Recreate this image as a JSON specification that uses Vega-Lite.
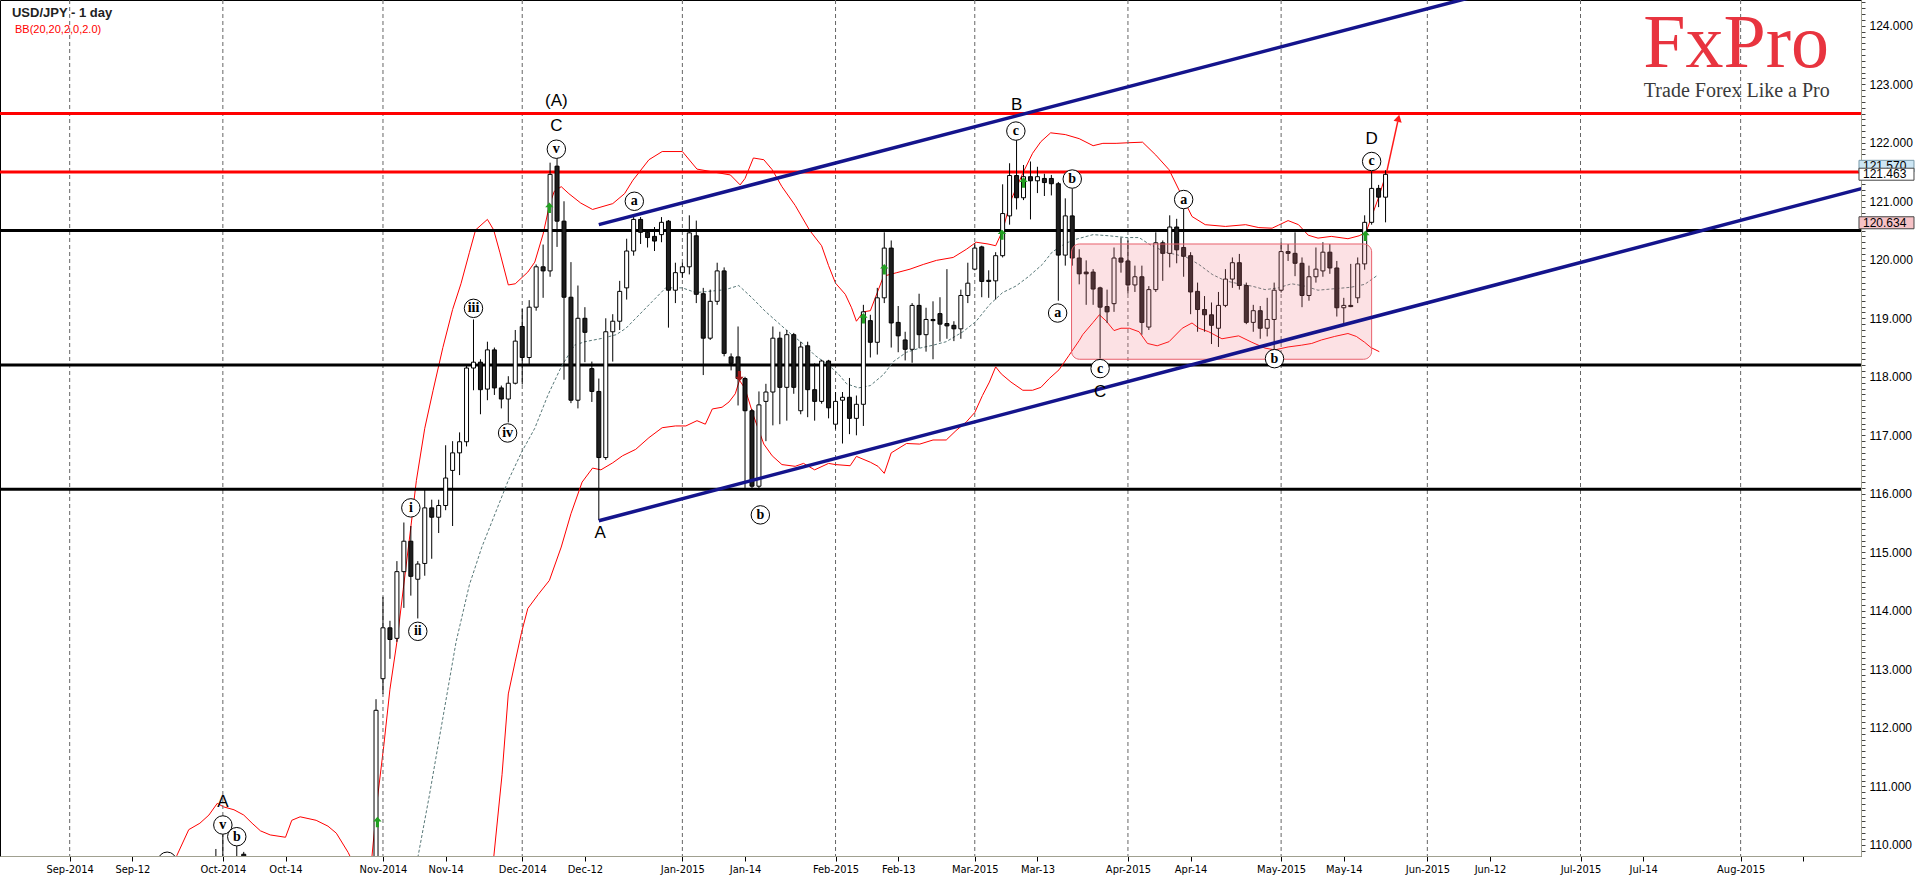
{
"$schema": "https://vega.github.io/schema/vega-lite/v6.json",
"width": 1861,
"height": 856,
"autosize": {"type": "none"},
"padding": {"left": 0, "top": 0, "right": 57, "bottom": 20},
"background": "#ffffff",
"config": {"view": {"stroke": "#000000", "strokeWidth": 1}},
"resolve": {"axis": {"x": "independent", "y": "independent"}},
"datasets": {
"months": [{"d":0},{"d":22},{"d":45},{"d":65},{"d":88},{"d":110},{"d":130},{"d":152},{"d":174},{"d":195},{"d":217},{"d":240}],
"candles": [
{"d":19,"o":109.2,"h":109.45,"l":108.8,"c":109.3},
{"d":20,"o":109.3,"h":109.6,"l":109.1,"c":109.45},
{"d":21,"o":109.45,"h":109.93,"l":109.3,"c":109.65},
{"d":22,"o":109.65,"h":110.18,"l":108.5,"c":108.9},
{"d":23,"o":108.9,"h":109.1,"l":107.9,"c":108.5},
{"d":24,"o":108.5,"h":109.98,"l":108.4,"c":109.6},
{"d":25,"o":109.84,"h":109.88,"l":108.7,"c":108.8},
{"d":43,"o":109.1,"h":109.4,"l":108.9,"c":109.2},
{"d":44,"o":109.2,"h":112.49,"l":109.15,"c":112.3},
{"d":45,"o":112.84,"h":114.24,"l":112.58,"c":113.71},
{"d":46,"o":113.71,"h":113.83,"l":113.18,"c":113.51},
{"d":47,"o":113.53,"h":114.85,"l":113.47,"c":114.67},
{"d":48,"o":114.67,"h":115.51,"l":114.05,"c":115.19},
{"d":49,"o":115.19,"h":115.45,"l":114.26,"c":114.59},
{"d":50,"o":114.54,"h":114.85,"l":113.87,"c":114.8},
{"d":51,"o":114.81,"h":116.08,"l":114.6,"c":115.76},
{"d":52,"o":115.76,"h":115.9,"l":114.89,"c":115.6},
{"d":53,"o":115.6,"h":115.9,"l":115.33,"c":115.8},
{"d":54,"o":115.8,"h":116.83,"l":115.72,"c":116.27},
{"d":55,"o":116.4,"h":116.9,"l":115.45,"c":116.7},
{"d":56,"o":116.7,"h":117.05,"l":116.32,"c":116.89},
{"d":57,"o":116.89,"h":118.2,"l":116.81,"c":118.15},
{"d":58,"o":118.15,"h":118.98,"l":117.77,"c":118.25},
{"d":59,"o":118.25,"h":118.3,"l":117.36,"c":117.78},
{"d":60,"o":117.79,"h":118.6,"l":117.6,"c":118.46},
{"d":61,"o":118.46,"h":118.5,"l":117.69,"c":117.81},
{"d":62,"o":117.81,"h":117.85,"l":117.46,"c":117.62},
{"d":63,"o":117.62,"h":118.01,"l":117.22,"c":117.89},
{"d":64,"o":117.89,"h":118.8,"l":117.87,"c":118.61},
{"d":65,"o":118.86,"h":119.16,"l":117.87,"c":118.33},
{"d":66,"o":118.33,"h":119.31,"l":118.21,"c":119.19},
{"d":67,"o":119.19,"h":119.92,"l":119.13,"c":119.88},
{"d":68,"o":119.88,"h":120.26,"l":119.35,"c":119.81},
{"d":69,"o":119.81,"h":121.66,"l":119.71,"c":121.46},
{"d":70,"o":121.6,"h":121.85,"l":120.22,"c":120.66},
{"d":71,"o":120.66,"h":121.0,"l":117.95,"c":119.36},
{"d":72,"o":119.36,"h":119.96,"l":117.55,"c":117.6},
{"d":73,"o":117.6,"h":119.56,"l":117.46,"c":119.0},
{"d":74,"o":119.0,"h":119.19,"l":118.25,"c":118.76},
{"d":75,"o":118.14,"h":118.26,"l":117.57,"c":117.75},
{"d":76,"o":117.75,"h":117.97,"l":115.55,"c":116.62},
{"d":77,"o":116.62,"h":119.0,"l":116.58,"c":118.77},
{"d":78,"o":118.77,"h":119.07,"l":118.26,"c":118.95},
{"d":79,"o":118.95,"h":119.64,"l":118.8,"c":119.46},
{"d":80,"o":119.52,"h":120.36,"l":119.32,"c":120.15},
{"d":81,"o":120.15,"h":120.77,"l":120.07,"c":120.69},
{"d":82,"o":120.69,"h":120.73,"l":120.27,"c":120.47},
{"d":83,"o":120.47,"h":120.5,"l":120.21,"c":120.38},
{"d":84,"o":120.4,"h":120.56,"l":120.15,"c":120.32},
{"d":85,"o":120.43,"h":120.73,"l":120.3,"c":120.64},
{"d":86,"o":120.66,"h":120.68,"l":118.84,"c":119.48},
{"d":87,"o":119.48,"h":119.95,"l":119.26,"c":119.78},
{"d":88,"o":119.78,"h":119.95,"l":119.69,"c":119.88},
{"d":89,"o":119.88,"h":120.76,"l":119.75,"c":120.46},
{"d":90,"o":120.41,"h":120.67,"l":119.26,"c":119.41},
{"d":91,"o":119.42,"h":119.52,"l":118.03,"c":118.66},
{"d":92,"o":118.66,"h":119.49,"l":118.63,"c":119.29},
{"d":93,"o":119.29,"h":119.95,"l":119.23,"c":119.81},
{"d":94,"o":119.81,"h":119.87,"l":118.35,"c":118.4},
{"d":95,"o":118.34,"h":118.4,"l":118.11,"c":118.23},
{"d":96,"o":118.34,"h":118.86,"l":117.51,"c":117.97},
{"d":97,"o":117.97,"h":118.0,"l":116.1,"c":117.42},
{"d":98,"o":117.42,"h":117.45,"l":116.07,"c":116.13},
{"d":99,"o":116.13,"h":117.75,"l":116.07,"c":117.52},
{"d":100,"o":117.58,"h":117.88,"l":116.9,"c":117.74},
{"d":101,"o":117.74,"h":118.86,"l":117.17,"c":118.66},
{"d":102,"o":118.66,"h":118.77,"l":117.19,"c":117.82},
{"d":103,"o":117.82,"h":118.8,"l":117.25,"c":118.72},
{"d":104,"o":118.72,"h":118.75,"l":117.71,"c":117.82},
{"d":105,"o":117.42,"h":118.6,"l":117.36,"c":118.51},
{"d":106,"o":118.53,"h":118.6,"l":117.31,"c":117.78},
{"d":107,"o":117.78,"h":118.23,"l":117.25,"c":117.58},
{"d":108,"o":117.58,"h":118.29,"l":117.54,"c":118.27},
{"d":109,"o":118.27,"h":118.29,"l":117.29,"c":117.47},
{"d":110,"o":117.19,"h":117.74,"l":117.1,"c":117.58},
{"d":111,"o":117.6,"h":117.74,"l":116.86,"c":117.65},
{"d":112,"o":117.65,"h":117.98,"l":117.02,"c":117.29},
{"d":113,"o":117.29,"h":117.68,"l":117.0,"c":117.53},
{"d":114,"o":117.53,"h":119.23,"l":117.16,"c":119.11},
{"d":115,"o":118.96,"h":119.06,"l":118.33,"c":118.59},
{"d":116,"o":118.59,"h":119.52,"l":118.38,"c":119.35},
{"d":117,"o":119.35,"h":120.47,"l":119.26,"c":120.2},
{"d":118,"o":120.2,"h":120.33,"l":118.5,"c":118.92},
{"d":119,"o":118.93,"h":119.21,"l":118.42,"c":118.7},
{"d":120,"o":118.63,"h":118.77,"l":118.28,"c":118.47},
{"d":121,"o":118.47,"h":119.26,"l":118.24,"c":119.22},
{"d":122,"o":119.22,"h":119.42,"l":118.49,"c":118.72},
{"d":123,"o":118.72,"h":119.18,"l":118.43,"c":118.98},
{"d":124,"o":118.98,"h":119.29,"l":118.3,"c":118.96},
{"d":125,"o":119.08,"h":119.36,"l":118.6,"c":118.9},
{"d":126,"o":118.91,"h":119.84,"l":118.65,"c":118.87},
{"d":127,"o":118.88,"h":118.95,"l":118.61,"c":118.82},
{"d":128,"o":118.82,"h":119.49,"l":118.65,"c":119.39},
{"d":129,"o":119.39,"h":119.95,"l":119.26,"c":119.6},
{"d":130,"o":119.84,"h":120.28,"l":119.82,"c":120.2},
{"d":131,"o":120.22,"h":120.24,"l":119.36,"c":119.63},
{"d":132,"o":119.65,"h":119.82,"l":119.35,"c":119.63},
{"d":133,"o":119.64,"h":120.13,"l":119.32,"c":120.07},
{"d":134,"o":120.07,"h":121.29,"l":120.04,"c":120.79},
{"d":135,"o":120.75,"h":121.65,"l":120.6,"c":121.44},
{"d":136,"o":121.44,"h":122.05,"l":120.86,"c":121.06},
{"d":137,"o":121.06,"h":121.62,"l":121.02,"c":121.42},
{"d":138,"o":121.42,"h":121.68,"l":120.69,"c":121.35},
{"d":139,"o":121.35,"h":121.59,"l":121.14,"c":121.42},
{"d":140,"o":121.39,"h":121.47,"l":121.09,"c":121.32},
{"d":141,"o":121.39,"h":121.45,"l":121.1,"c":121.3},
{"d":142,"o":121.3,"h":121.33,"l":119.3,"c":120.08},
{"d":143,"o":120.08,"h":121.05,"l":119.9,"c":120.75},
{"d":144,"o":120.75,"h":121.22,"l":119.9,"c":120.03},
{"d":145,"o":120.03,"h":120.18,"l":119.58,"c":119.76},
{"d":146,"o":119.79,"h":119.99,"l":119.23,"c":119.76},
{"d":147,"o":119.79,"h":119.84,"l":119.23,"c":119.5},
{"d":148,"o":119.52,"h":119.54,"l":118.31,"c":119.19},
{"d":149,"o":119.2,"h":119.49,"l":118.92,"c":119.11},
{"d":150,"o":119.25,"h":120.21,"l":119.11,"c":120.03},
{"d":151,"o":120.03,"h":120.38,"l":119.78,"c":119.96},
{"d":152,"o":119.98,"h":120.33,"l":119.42,"c":119.57},
{"d":153,"o":119.57,"h":119.9,"l":119.45,"c":119.71},
{"d":154,"o":119.71,"h":119.9,"l":118.72,"c":118.93},
{"d":155,"o":118.85,"h":119.55,"l":118.8,"c":119.49},
{"d":156,"o":119.49,"h":120.47,"l":119.45,"c":120.29},
{"d":157,"o":120.29,"h":120.33,"l":119.64,"c":120.11},
{"d":158,"o":120.11,"h":120.76,"l":119.87,"c":120.56},
{"d":159,"o":120.56,"h":120.7,"l":119.94,"c":120.17},
{"d":160,"o":120.21,"h":120.87,"l":119.71,"c":120.06},
{"d":161,"o":120.07,"h":120.13,"l":119.07,"c":119.45},
{"d":162,"o":119.46,"h":119.61,"l":118.77,"c":119.15},
{"d":163,"o":119.15,"h":119.38,"l":118.77,"c":119.06},
{"d":164,"o":119.06,"h":119.27,"l":118.56,"c":118.88},
{"d":165,"o":118.83,"h":119.45,"l":118.51,"c":119.22},
{"d":166,"o":119.22,"h":119.84,"l":119.19,"c":119.67},
{"d":167,"o":119.67,"h":120.04,"l":119.52,"c":119.95},
{"d":168,"o":119.95,"h":120.1,"l":119.49,"c":119.56},
{"d":169,"o":119.56,"h":119.61,"l":118.9,"c":118.93},
{"d":170,"o":118.93,"h":119.23,"l":118.77,"c":119.13},
{"d":171,"o":119.13,"h":119.21,"l":118.65,"c":118.83},
{"d":172,"o":118.83,"h":119.35,"l":118.69,"c":118.98},
{"d":173,"o":118.98,"h":119.61,"l":118.46,"c":119.48},
{"d":174,"o":119.48,"h":120.3,"l":119.44,"c":120.14},
{"d":175,"o":120.14,"h":120.27,"l":119.98,"c":120.11},
{"d":176,"o":120.11,"h":120.47,"l":119.72,"c":119.94},
{"d":177,"o":119.94,"h":120.04,"l":119.19,"c":119.39},
{"d":178,"o":119.39,"h":119.9,"l":119.3,"c":119.71},
{"d":179,"o":119.71,"h":120.21,"l":119.61,"c":119.84},
{"d":180,"o":119.81,"h":120.3,"l":119.71,"c":120.13},
{"d":181,"o":120.13,"h":120.27,"l":119.76,"c":119.86},
{"d":182,"o":119.86,"h":119.98,"l":119.03,"c":119.18},
{"d":183,"o":119.18,"h":119.35,"l":118.9,"c":119.22},
{"d":184,"o":119.22,"h":119.93,"l":119.19,"c":119.2},
{"d":185,"o":119.35,"h":120.04,"l":119.26,"c":119.93},
{"d":186,"o":119.93,"h":120.76,"l":119.83,"c":120.64},
{"d":187,"o":120.64,"h":121.51,"l":120.6,"c":121.22},
{"d":188,"o":121.22,"h":121.28,"l":120.9,"c":121.07},
{"d":189,"o":121.07,"h":121.53,"l":120.64,"c":121.46}
],
"bbU": [
{"d":14,"v":109.3},{"d":15.4,"v":109.82},{"d":17.1,"v":110.26},{"d":18.7,"v":110.37},{"d":20.0,"v":110.51},{"d":21.2,"v":110.71},{"d":22.1,"v":110.65},{"d":23.6,"v":110.6},{"d":25.0,"v":110.51},{"d":26.2,"v":110.37},{"d":27.4,"v":110.24},{"d":28.8,"v":110.17},{"d":31.0,"v":110.13},{"d":31.9,"v":110.42},{"d":33.1,"v":110.48},{"d":35.4,"v":110.42},{"d":37.1,"v":110.32},{"d":38.3,"v":110.2},{"d":40.0,"v":109.87},{"d":41.5,"v":109.5},{"d":43.4,"v":109.78},{"d":44.2,"v":110.79},{"d":45.1,"v":111.68},{"d":46.0,"v":112.66},{"d":47.0,"v":113.47},{"d":47.9,"v":114.36},{"d":48.9,"v":115.33},{"d":49.8,"v":116.23},{"d":51.0,"v":117.12},{"d":52.2,"v":117.77},{"d":53.6,"v":118.5},{"d":55.0,"v":119.15},{"d":56.2,"v":119.59},{"d":57.4,"v":120.12},{"d":58.3,"v":120.51},{"d":60.0,"v":120.69},{"d":60.9,"v":120.51},{"d":61.8,"v":120.12},{"d":63.0,"v":119.57},{"d":64.0,"v":119.59},{"d":65.8,"v":119.79},{"d":66.8,"v":119.96},{"d":68.0,"v":120.44},{"d":68.9,"v":120.93},{"d":69.6,"v":121.17},{"d":70.6,"v":121.25},{"d":71.7,"v":121.13},{"d":73.4,"v":120.97},{"d":75.1,"v":120.86},{"d":78.0,"v":120.96},{"d":79.7,"v":121.13},{"d":80.9,"v":121.36},{"d":83.2,"v":121.71},{"d":85.1,"v":121.85},{"d":88.0,"v":121.85},{"d":90.1,"v":121.55},{"d":92.0,"v":121.51},{"d":94.9,"v":121.45},{"d":96.3,"v":121.28},{"d":97.0,"v":121.39},{"d":98.2,"v":121.74},{"d":99.7,"v":121.71},{"d":100.9,"v":121.54},{"d":102.3,"v":121.25},{"d":104.2,"v":120.93},{"d":106.3,"v":120.5},{"d":108.0,"v":120.24},{"d":109.0,"v":119.9},{"d":110.0,"v":119.6},{"d":111.4,"v":119.41},{"d":112.3,"v":119.18},{"d":113.0,"v":118.95},{"d":114.0,"v":119.11},{"d":115.0,"v":119.13},{"d":116.9,"v":119.72},{"d":118.8,"v":119.78},{"d":120.7,"v":119.84},{"d":122.6,"v":119.92},{"d":124.5,"v":119.99},{"d":126.9,"v":120.04},{"d":128.8,"v":120.18},{"d":130.2,"v":120.3},{"d":131.9,"v":120.27},{"d":133.0,"v":120.24},{"d":134.0,"v":120.5},{"d":135.2,"v":121.02},{"d":136.9,"v":121.48},{"d":138.3,"v":121.82},{"d":139.5,"v":122.02},{"d":140.9,"v":122.17},{"d":143.0,"v":122.14},{"d":145.0,"v":122.07},{"d":147.0,"v":121.95},{"d":148.4,"v":121.99},{"d":150.3,"v":121.99},{"d":152.0,"v":122.0},{"d":154.1,"v":122.01},{"d":156.0,"v":121.79},{"d":157.9,"v":121.54},{"d":159.8,"v":121.08},{"d":161.2,"v":120.74},{"d":163.1,"v":120.6},{"d":166.0,"v":120.57},{"d":168.9,"v":120.6},{"d":170.8,"v":120.55},{"d":172.7,"v":120.54},{"d":173.6,"v":120.59},{"d":175.0,"v":120.67},{"d":176.5,"v":120.6},{"d":177.9,"v":120.42},{"d":179.3,"v":120.37},{"d":181.2,"v":120.4},{"d":183.6,"v":120.36},{"d":185.2,"v":120.41},{"d":186.2,"v":120.47},{"d":188.1,"v":121.1},{"d":189.2,"v":121.52}
],
"bbL": [
{"d":59.5,"v":108.5},{"d":60.9,"v":109.78},{"d":62.1,"v":111.2},{"d":63.0,"v":112.58},{"d":64.0,"v":113.14},{"d":64.9,"v":113.63},{"d":65.8,"v":114.04},{"d":67.3,"v":114.28},{"d":68.9,"v":114.52},{"d":70.6,"v":115.09},{"d":72.0,"v":115.66},{"d":73.6,"v":116.2},{"d":75.1,"v":116.44},{"d":76.3,"v":116.41},{"d":78.0,"v":116.53},{"d":79.4,"v":116.65},{"d":81.3,"v":116.76},{"d":83.2,"v":116.96},{"d":85.1,"v":117.13},{"d":87.0,"v":117.16},{"d":88.5,"v":117.16},{"d":90.1,"v":117.25},{"d":91.3,"v":117.19},{"d":92.3,"v":117.45},{"d":93.7,"v":117.48},{"d":94.7,"v":117.57},{"d":95.6,"v":117.71},{"d":96.2,"v":117.94},{"d":97.0,"v":117.8},{"d":98.2,"v":117.34},{"d":99.7,"v":116.85},{"d":100.9,"v":116.65},{"d":102.3,"v":116.5},{"d":104.2,"v":116.47},{"d":105.4,"v":116.52},{"d":107.0,"v":116.41},{"d":109.0,"v":116.52},{"d":110.0,"v":116.5},{"d":112.1,"v":116.48},{"d":113.0,"v":116.64},{"d":115.0,"v":116.54},{"d":116.1,"v":116.47},{"d":117.0,"v":116.35},{"d":118.0,"v":116.7},{"d":120.2,"v":116.86},{"d":122.1,"v":116.85},{"d":124.0,"v":116.92},{"d":125.9,"v":116.92},{"d":127.3,"v":117.08},{"d":128.8,"v":117.23},{"d":130.0,"v":117.39},{"d":131.1,"v":117.68},{"d":132.1,"v":117.91},{"d":133.0,"v":118.17},{"d":133.8,"v":118.05},{"d":135.2,"v":117.91},{"d":136.9,"v":117.77},{"d":138.3,"v":117.77},{"d":139.5,"v":117.82},{"d":140.7,"v":117.97},{"d":142.1,"v":118.12},{"d":143.5,"v":118.36},{"d":145.0,"v":118.62},{"d":145.5,"v":118.72},{"d":147.0,"v":118.93},{"d":147.9,"v":119.06},{"d":148.9,"v":118.95},{"d":150.0,"v":118.79},{"d":151.0,"v":118.83},{"d":152.2,"v":118.83},{"d":153.6,"v":118.77},{"d":154.8,"v":118.57},{"d":156.2,"v":118.53},{"d":157.9,"v":118.6},{"d":159.8,"v":118.83},{"d":161.2,"v":118.92},{"d":162.2,"v":118.83},{"d":163.6,"v":118.77},{"d":165.5,"v":118.65},{"d":167.9,"v":118.7},{"d":169.8,"v":118.59},{"d":171.7,"v":118.49},{"d":173.1,"v":118.46},{"d":175.0,"v":118.51},{"d":176.9,"v":118.54},{"d":178.4,"v":118.57},{"d":179.8,"v":118.63},{"d":181.7,"v":118.69},{"d":183.6,"v":118.74},{"d":184.8,"v":118.69},{"d":186.0,"v":118.59},{"d":186.9,"v":118.5},{"d":188.1,"v":118.43}
],
"bbM": [
{"d":48.5,"v":108.6},{"d":50.0,"v":109.78},{"d":51.7,"v":110.87},{"d":53.6,"v":112.17},{"d":55.5,"v":113.47},{"d":57.4,"v":114.44},{"d":59.2,"v":115.09},{"d":61.1,"v":115.66},{"d":63.0,"v":116.23},{"d":64.9,"v":116.71},{"d":66.8,"v":117.12},{"d":68.7,"v":117.69},{"d":70.6,"v":118.17},{"d":72.5,"v":118.54},{"d":74.0,"v":118.6},{"d":76.6,"v":118.66},{"d":78.5,"v":118.72},{"d":79.9,"v":118.83},{"d":81.8,"v":119.06},{"d":83.7,"v":119.29},{"d":85.6,"v":119.52},{"d":88.0,"v":119.52},{"d":89.9,"v":119.44},{"d":91.8,"v":119.46},{"d":94.2,"v":119.49},{"d":96.1,"v":119.56},{"d":98.0,"v":119.35},{"d":99.9,"v":119.12},{"d":101.8,"v":118.92},{"d":103.7,"v":118.72},{"d":105.6,"v":118.54},{"d":107.0,"v":118.37},{"d":109.0,"v":118.2},{"d":110.4,"v":118.05},{"d":111.6,"v":117.88},{"d":113.3,"v":117.81},{"d":115.0,"v":117.85},{"d":116.9,"v":118.04},{"d":118.3,"v":118.26},{"d":120.2,"v":118.42},{"d":122.1,"v":118.49},{"d":124.0,"v":118.54},{"d":125.9,"v":118.6},{"d":128.3,"v":118.77},{"d":130.2,"v":118.95},{"d":132.1,"v":119.23},{"d":134.0,"v":119.44},{"d":135.9,"v":119.55},{"d":137.8,"v":119.72},{"d":139.7,"v":119.92},{"d":141.1,"v":120.13},{"d":143.0,"v":120.28},{"d":144.5,"v":120.35},{"d":147.0,"v":120.43},{"d":149.3,"v":120.41},{"d":151.7,"v":120.38},{"d":153.6,"v":120.38},{"d":155.0,"v":120.27},{"d":157.4,"v":120.13},{"d":160.3,"v":120.05},{"d":162.2,"v":119.92},{"d":164.1,"v":119.75},{"d":166.0,"v":119.64},{"d":167.9,"v":119.59},{"d":169.8,"v":119.55},{"d":171.7,"v":119.49},{"d":173.6,"v":119.52},{"d":175.5,"v":119.59},{"d":177.4,"v":119.55},{"d":179.3,"v":119.48},{"d":180.2,"v":119.49},{"d":182.1,"v":119.51},{"d":184.0,"v":119.53},{"d":186.0,"v":119.58},{"d":187.9,"v":119.74}
],
"hlines": [{"v":122.5,"k":"r"},{"v":121.5,"k":"r"},{"v":120.5,"k":"k"},{"v":118.2,"k":"k"},{"v":116.08,"k":"k"}],
"trend": [{"d":76,"v":120.6,"g":"upper"},{"d":215,"v":124.91,"g":"upper"},{"d":76,"v":115.54,"g":"lower"},{"d":260,"v":121.3,"g":"lower"}],
"box": [{"d1":143.9,"d2":187.0,"v1":118.3,"v2":120.27}],
"proj": [{"d":189.2,"v":121.52},{"d":190.75,"v":122.36}],
"projHead": [{"d":190.85,"v":122.42}],
"upArrows": [{"d":44.2,"v":110.39},{"d":68.9,"v":120.89},{"d":114.0,"v":119.0},{"d":117.0,"v":119.84},{"d":133.9,"v":120.43},{"d":137.0,"v":121.32},{"d":186.1,"v":120.41}],
"downArrows": [{"d":96.2,"v":118.01}],
"circles": [{"d":69.9,"v":121.89,"t":"v"},{"d":81.1,"v":121.0,"t":"a"},{"d":99.2,"v":115.64,"t":"b"},{"d":58.0,"v":119.17,"t":"iii"},{"d":49.0,"v":115.76,"t":"i"},{"d":50.0,"v":113.65,"t":"ii"},{"d":62.9,"v":117.04,"t":"iv"},{"d":135.9,"v":122.2,"t":"c"},{"d":144.0,"v":121.38,"t":"b"},{"d":141.9,"v":119.09,"t":"a"},{"d":148.0,"v":118.14,"t":"c"},{"d":160.0,"v":121.03,"t":"a"},{"d":173.05,"v":118.31,"t":"b"},{"d":187.0,"v":121.68,"t":"c"},{"d":22.0,"v":110.34,"t":"v"},{"d":24.0,"v":110.14,"t":"b"},{"d":14.0,"v":109.72,"t":""}],
"letters": [{"d":69.9,"v":122.71,"t":"(A)"},{"d":69.9,"v":122.29,"t":"C"},{"d":76.2,"v":115.33,"t":"A"},{"d":136.0,"v":122.64,"t":"B"},{"d":148.0,"v":117.74,"t":"C"},{"d":187.0,"v":122.07,"t":"D"},{"d":22.0,"v":110.74,"t":"A"}],
"title": [{"d":-8.29,"v":124.15,"t":"USD/JPY - 1 day"}],
"sub": [{"d":-7.86,"v":123.88,"t":"BB(20,20,2,0,2.0)"}],
"logo": [{"d":226.0,"v":123.3,"t":"FxPro"}],
"slogan": [{"d":226.1,"v":122.78,"t":"Trade Forex Like a Pro"}],
"tags": [{"d1":257.0,"d2":264.9,"t":"121.570","v":121.6,"lo":121.5,"hi":121.7,"k":"ask"},{"d1":257.0,"d2":264.9,"t":"121.463","v":121.463,"lo":121.36,"hi":121.565,"k":"last"},{"d1":257.0,"d2":264.9,"t":"120.634","v":120.634,"lo":120.53,"hi":120.735,"k":"bid"}]
},
"layer": [
{"data":{"name":"bbU"},"mark":{"type":"line","color":"#ff0000","strokeWidth":1,"clip":true},
 "encoding":{
  "x":{"field":"d","type":"quantitative","scale":{"domain":[-9.29,256.57],"nice":false,"zero":false},
   "axis":{"title":null,"values":[0,9,22,31,45,54,65,74,88,97,110,119,130,139,152,161,174,183,195,204,217,226,240,249],
    "labelExpr":"['Sep-2014','Sep-12','Oct-2014','Oct-14','Nov-2014','Nov-14','Dec-2014','Dec-12','Jan-2015','Jan-14','Feb-2015','Feb-13','Mar-2015','Mar-13','Apr-2015','Apr-14','May-2015','May-14','Jun-2015','Jun-12','Jul-2015','Jul-14','Aug-2015',''][indexof([0,9,22,31,45,54,65,74,88,97,110,119,130,139,152,161,174,183,195,204,217,226,240,249], datum.value)]",
    "grid":false,
    "domainColor":"#a0a090","tickColor":"#000000","tickSize":5,"labelFont":"Liberation Sans Narrow, Arial Narrow, DejaVu Sans Condensed, sans-serif","labelFontSize":11,"labelColor":"#000000","labelPadding":2,"labelOverlap":false,"labelFlush":false,"labelBound":false}},
  "y":{"field":"v","type":"quantitative","scale":{"domain":[109.81,124.44],"nice":false,"zero":false},
   "axis":{"title":null,"orient":"right","tickCount":150,"grid":false,
    "labelExpr":"abs(datum.value - round(datum.value)) < 0.001 ? format(datum.value, '.3f') : ''",
    "domainColor":"#a0a090","tickColor":"#444444","tickSize":4,"labelFont":"Liberation Sans, Arial, sans-serif","labelFontSize":12,"labelColor":"#000000","labelPadding":4,"labelOverlap":false,"labelFlush":false,"labelBound":false}}}},
{"data":{"name":"months"},"mark":{"type":"rule","color":"#666666","strokeWidth":1,"strokeDash":[4,3]},
 "encoding":{"x":{"field":"d","type":"quantitative","scale":{"domain":[-9.29,256.57],"nice":false,"zero":false},"axis":null}}},
{"data":{"name":"hlines"},"mark":{"type":"rule","strokeWidth":3},
 "encoding":{"y":{"field":"v","type":"quantitative","scale":{"domain":[109.81,124.44],"nice":false,"zero":false},"axis":null},
  "color":{"field":"k","type":"nominal","scale":{"domain":["r","k"],"range":["#ff0000","#000000"]},"legend":null}}},
{"data":{"name":"bbL"},"mark":{"type":"line","color":"#ff0000","strokeWidth":1,"clip":true},
 "encoding":{"x":{"field":"d","type":"quantitative","scale":{"domain":[-9.29,256.57],"nice":false,"zero":false},"axis":null},
  "y":{"field":"v","type":"quantitative","scale":{"domain":[109.81,124.44],"nice":false,"zero":false},"axis":null}}},
{"data":{"name":"bbM"},"mark":{"type":"line","color":"#587878","strokeWidth":1,"strokeDash":[3,2],"clip":true},
 "encoding":{"x":{"field":"d","type":"quantitative","scale":{"domain":[-9.29,256.57],"nice":false,"zero":false},"axis":null},
  "y":{"field":"v","type":"quantitative","scale":{"domain":[109.81,124.44],"nice":false,"zero":false},"axis":null}}},
{"data":{"name":"candles"},"mark":{"type":"rule","color":"#000000","strokeWidth":1,"clip":true},
 "encoding":{"x":{"field":"d","type":"quantitative","scale":{"domain":[-9.29,256.57],"nice":false,"zero":false},"axis":null},
  "y":{"field":"l","type":"quantitative","scale":{"domain":[109.81,124.44],"nice":false,"zero":false},"axis":null},
  "y2":{"field":"h"}}},
{"data":{"name":"candles"},"mark":{"type":"bar","size":4,"stroke":"#000000","strokeWidth":1,"clip":true},
 "encoding":{"x":{"field":"d","type":"quantitative","scale":{"domain":[-9.29,256.57],"nice":false,"zero":false},"axis":null},
  "y":{"field":"o","type":"quantitative","scale":{"domain":[109.81,124.44],"nice":false,"zero":false},"axis":null},
  "y2":{"field":"c"},
  "fill":{"condition":{"test":"datum.c >= datum.o","value":"#ffffff"},"value":"#1e1e1e"}}},
{"data":{"name":"box"},"mark":{"type":"rect","fill":"#f07884","fillOpacity":0.22,"stroke":"#e8606c","strokeWidth":1,"cornerRadius":8,"clip":true},
 "encoding":{"x":{"field":"d1","type":"quantitative","scale":{"domain":[-9.29,256.57],"nice":false,"zero":false},"axis":null},
  "x2":{"field":"d2"},
  "y":{"field":"v1","type":"quantitative","scale":{"domain":[109.81,124.44],"nice":false,"zero":false},"axis":null},
  "y2":{"field":"v2"}}},
{"data":{"name":"trend"},"mark":{"type":"line","color":"#14148c","strokeWidth":3.5,"clip":true},
 "encoding":{"x":{"field":"d","type":"quantitative","scale":{"domain":[-9.29,256.57],"nice":false,"zero":false},"axis":null},
  "y":{"field":"v","type":"quantitative","scale":{"domain":[109.81,124.44],"nice":false,"zero":false},"axis":null},
  "detail":{"field":"g","type":"nominal"}}},
{"data":{"name":"proj"},"mark":{"type":"line","color":"#ff1a1a","strokeWidth":1.5,"clip":true},
 "encoding":{"x":{"field":"d","type":"quantitative","scale":{"domain":[-9.29,256.57],"nice":false,"zero":false},"axis":null},
  "y":{"field":"v","type":"quantitative","scale":{"domain":[109.81,124.44],"nice":false,"zero":false},"axis":null}}},
{"data":{"name":"projHead"},"mark":{"type":"point","shape":"triangle-up","filled":true,"color":"#ff1a1a","size":70,"angle":13,"opacity":1,"clip":true},
 "encoding":{"x":{"field":"d","type":"quantitative","scale":{"domain":[-9.29,256.57],"nice":false,"zero":false},"axis":null},
  "y":{"field":"v","type":"quantitative","scale":{"domain":[109.81,124.44],"nice":false,"zero":false},"axis":null}}},
{"data":{"name":"upArrows"},"mark":{"type":"point","shape":"M0,-1L0.8,-0.1L0.3,-0.1L0.3,1L-0.3,1L-0.3,-0.1L-0.8,-0.1Z","filled":true,"color":"#22a022","size":110,"opacity":1,"clip":true},
 "encoding":{"x":{"field":"d","type":"quantitative","scale":{"domain":[-9.29,256.57],"nice":false,"zero":false},"axis":null},
  "y":{"field":"v","type":"quantitative","scale":{"domain":[109.81,124.44],"nice":false,"zero":false},"axis":null}}},
{"data":{"name":"downArrows"},"mark":{"type":"point","shape":"M0,1L0.8,0.1L0.3,0.1L0.3,-1L-0.3,-1L-0.3,0.1L-0.8,0.1Z","filled":true,"color":"#a01818","size":110,"opacity":1,"clip":true},
 "encoding":{"x":{"field":"d","type":"quantitative","scale":{"domain":[-9.29,256.57],"nice":false,"zero":false},"axis":null},
  "y":{"field":"v","type":"quantitative","scale":{"domain":[109.81,124.44],"nice":false,"zero":false},"axis":null}}},
{"data":{"name":"circles"},"mark":{"type":"point","shape":"circle","filled":true,"fill":"#ffffff","stroke":"#000000","strokeWidth":1,"size":340,"opacity":1,"clip":true},
 "encoding":{"x":{"field":"d","type":"quantitative","scale":{"domain":[-9.29,256.57],"nice":false,"zero":false},"axis":null},
  "y":{"field":"v","type":"quantitative","scale":{"domain":[109.81,124.44],"nice":false,"zero":false},"axis":null}}},
{"data":{"name":"circles"},"mark":{"type":"text","font":"Liberation Serif, DejaVu Serif, serif","fontSize":14,"fontWeight":"bold","color":"#000000","align":"center","baseline":"middle","clip":true},
 "encoding":{"x":{"field":"d","type":"quantitative","scale":{"domain":[-9.29,256.57],"nice":false,"zero":false},"axis":null},
  "y":{"field":"v","type":"quantitative","scale":{"domain":[109.81,124.44],"nice":false,"zero":false},"axis":null},
  "text":{"field":"t"}}},
{"data":{"name":"letters"},"mark":{"type":"text","font":"Liberation Sans, Arial, sans-serif","fontSize":17,"color":"#000000","align":"center","baseline":"middle","clip":true},
 "encoding":{"x":{"field":"d","type":"quantitative","scale":{"domain":[-9.29,256.57],"nice":false,"zero":false},"axis":null},
  "y":{"field":"v","type":"quantitative","scale":{"domain":[109.81,124.44],"nice":false,"zero":false},"axis":null},
  "text":{"field":"t"}}},
{"data":{"name":"title"},"mark":{"type":"text","font":"Liberation Sans, Arial, sans-serif","fontSize":13,"fontWeight":"bold","color":"#222222","align":"left","baseline":"alphabetic"},
 "encoding":{"x":{"field":"d","type":"quantitative","scale":{"domain":[-9.29,256.57],"nice":false,"zero":false},"axis":null},
  "y":{"field":"v","type":"quantitative","scale":{"domain":[109.81,124.44],"nice":false,"zero":false},"axis":null},
  "text":{"field":"t"}}},
{"data":{"name":"sub"},"mark":{"type":"text","font":"Liberation Sans, Arial, sans-serif","fontSize":11,"color":"#ff0000","align":"left","baseline":"alphabetic"},
 "encoding":{"x":{"field":"d","type":"quantitative","scale":{"domain":[-9.29,256.57],"nice":false,"zero":false},"axis":null},
  "y":{"field":"v","type":"quantitative","scale":{"domain":[109.81,124.44],"nice":false,"zero":false},"axis":null},
  "text":{"field":"t"}}},
{"data":{"name":"logo"},"mark":{"type":"text","font":"Liberation Serif, Times New Roman, serif","fontSize":76,"color":"#e8343f","align":"left","baseline":"alphabetic"},
 "encoding":{"x":{"field":"d","type":"quantitative","scale":{"domain":[-9.29,256.57],"nice":false,"zero":false},"axis":null},
  "y":{"field":"v","type":"quantitative","scale":{"domain":[109.81,124.44],"nice":false,"zero":false},"axis":null},
  "text":{"field":"t"}}},
{"data":{"name":"slogan"},"mark":{"type":"text","font":"Liberation Serif, Times New Roman, serif","fontSize":20,"color":"#3a3a3a","align":"left","baseline":"alphabetic"},
 "encoding":{"x":{"field":"d","type":"quantitative","scale":{"domain":[-9.29,256.57],"nice":false,"zero":false},"axis":null},
  "y":{"field":"v","type":"quantitative","scale":{"domain":[109.81,124.44],"nice":false,"zero":false},"axis":null},
  "text":{"field":"t"}}},
{"data":{"name":"tags"},"transform":[{"filter":"datum.k == 'ask'"}],"mark":{"type":"rect","stroke":"#7a9aaa","strokeWidth":1,"fill":"#cde6f4"},
 "encoding":{"x":{"field":"d1","type":"quantitative","scale":{"domain":[-9.29,256.57],"nice":false,"zero":false},"axis":null},
  "x2":{"field":"d2"},
  "y":{"field":"lo","type":"quantitative","scale":{"domain":[109.81,124.44],"nice":false,"zero":false},"axis":null},
  "y2":{"field":"hi"}}},
{"data":{"name":"tags"},"transform":[{"filter":"datum.k == 'ask'"}],"mark":{"type":"text","font":"Liberation Sans, Arial, sans-serif","fontSize":12,"color":"#000000","align":"left","baseline":"middle","dx":4},
 "encoding":{"x":{"field":"d1","type":"quantitative","scale":{"domain":[-9.29,256.57],"nice":false,"zero":false},"axis":null},
  "y":{"field":"v","type":"quantitative","scale":{"domain":[109.81,124.44],"nice":false,"zero":false},"axis":null},
  "text":{"field":"t"}}},
{"data":{"name":"tags"},"transform":[{"filter":"datum.k != 'ask'"}],"mark":{"type":"rect","stroke":"#444444","strokeWidth":1},
 "encoding":{"x":{"field":"d1","type":"quantitative","scale":{"domain":[-9.29,256.57],"nice":false,"zero":false},"axis":null},
  "x2":{"field":"d2"},
  "y":{"field":"lo","type":"quantitative","scale":{"domain":[109.81,124.44],"nice":false,"zero":false},"axis":null},
  "y2":{"field":"hi"},
  "fill":{"field":"k","type":"nominal","scale":{"domain":["last","bid"],"range":["#ffffff","#f6c2c6"]},"legend":null}}},
{"data":{"name":"tags"},"transform":[{"filter":"datum.k != 'ask'"}],"mark":{"type":"text","font":"Liberation Sans, Arial, sans-serif","fontSize":12,"color":"#000000","align":"left","baseline":"middle","dx":4},
 "encoding":{"x":{"field":"d1","type":"quantitative","scale":{"domain":[-9.29,256.57],"nice":false,"zero":false},"axis":null},
  "y":{"field":"v","type":"quantitative","scale":{"domain":[109.81,124.44],"nice":false,"zero":false},"axis":null},
  "text":{"field":"t"}}}
]
}
